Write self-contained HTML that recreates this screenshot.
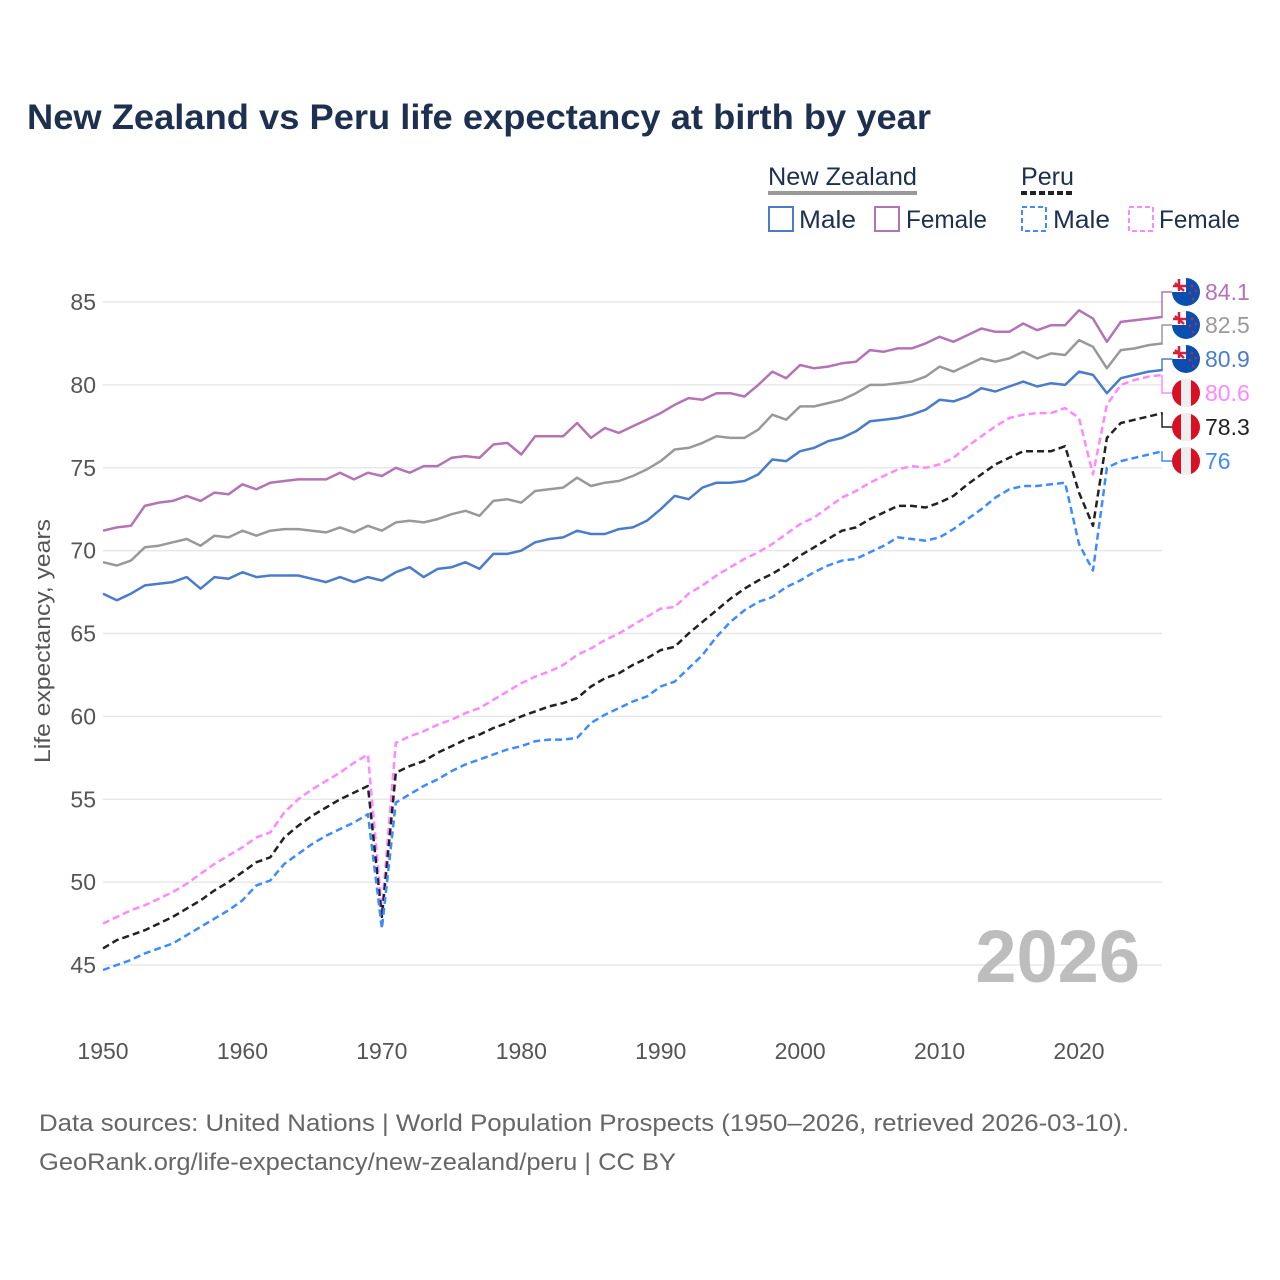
<!DOCTYPE html>
<html><head><meta charset="utf-8"><style>
html,body{margin:0;padding:0;background:#fff;}
svg{display:block;font-family:"Liberation Sans",sans-serif;}
</style></head><body>
<svg id="chart" width="1280" height="1280" viewBox="0 0 1280 1280" xmlns="http://www.w3.org/2000/svg">
<rect width="1280" height="1280" fill="#fff"/>
<text x="27" y="129" font-size="35" font-weight="bold" fill="#1d3050" textLength="904" lengthAdjust="spacingAndGlyphs">New Zealand vs Peru life expectancy at birth by year</text>
<g fill="#1d3050" font-size="25">
 <text x="768" y="185" textLength="149" lengthAdjust="spacingAndGlyphs">New Zealand</text>
 <line x1="768" y1="193" x2="917" y2="193" stroke="#999" stroke-width="4"/>
 <text x="1021" y="185" textLength="53" lengthAdjust="spacingAndGlyphs">Peru</text>
 <line x1="1021" y1="193" x2="1075" y2="193" stroke="#222" stroke-width="4" stroke-dasharray="6,3"/>
 <g><rect x="769" y="207" width="24" height="24" fill="none" stroke="#4a7cc9" stroke-width="2"/><text x="799" y="228" textLength="57" lengthAdjust="spacingAndGlyphs">Male</text></g>
 <g><rect x="875" y="207" width="24" height="24" fill="none" stroke="#b473b4" stroke-width="2"/><text x="906" y="228" textLength="81" lengthAdjust="spacingAndGlyphs">Female</text></g>
 <g><rect x="1022" y="207" width="24" height="24" fill="none" stroke="#3d8bff" stroke-width="2" stroke-dasharray="5,3"/><text x="1053" y="228" textLength="57" lengthAdjust="spacingAndGlyphs">Male</text></g>
 <g><rect x="1129" y="207" width="24" height="24" fill="none" stroke="#ff88ff" stroke-width="2" stroke-dasharray="5,3"/><text x="1159" y="228" textLength="81" lengthAdjust="spacingAndGlyphs">Female</text></g>
</g>
<text transform="translate(50,641) rotate(-90)" text-anchor="middle" font-size="22" fill="#555" textLength="244" lengthAdjust="spacingAndGlyphs">Life expectancy, years</text>
<g id="grid"></g><g id="yticks"></g><g id="xticks"></g>
<text x="1140" y="982" text-anchor="end" font-size="74" font-weight="bold" fill="#bdbdbd">2026</text>
<g id="lines"></g><g id="labels"></g>
<text x="39" y="1131" font-size="24" fill="#666" textLength="1090" lengthAdjust="spacingAndGlyphs">Data sources: United Nations | World Population Prospects (1950–2026, retrieved 2026-03-10).</text>
<text x="39" y="1170" font-size="24" fill="#666" textLength="637" lengthAdjust="spacingAndGlyphs">GeoRank.org/life-expectancy/new-zealand/peru | CC BY</text>
</svg>
<script>
const startYear = 1950;
const yTicks = [45,50,55,60,65,70,75,80,85];
const xTicks = [1950,1960,1970,1980,1990,2000,2010,2020];
const nzFemale = [71.2,71.4,71.5,72.7,72.9,73.0,73.3,73.0,73.5,73.4, 74.0,73.7,74.1,74.2,74.3,74.3,74.3,74.7,74.3,74.7, 74.5,75.0,74.7,75.1,75.1,75.6,75.7,75.6,76.4,76.5, 75.8,76.9,76.9,76.9,77.7,76.8,77.4,77.1,77.5,77.9, 78.3,78.8,79.2,79.1,79.5,79.5,79.3,80.0,80.8,80.4, 81.2,81.0,81.1,81.3,81.4,82.1,82.0,82.2,82.2,82.5, 82.9,82.6,83.0,83.4,83.2,83.2,83.7,83.3,83.6,83.6, 84.5,84.0,82.6,83.8,83.9,84.0,84.1];
const nzTotal = [69.3,69.1,69.4,70.2,70.3,70.5,70.7,70.3,70.9,70.8, 71.2,70.9,71.2,71.3,71.3,71.2,71.1,71.4,71.1,71.5, 71.2,71.7,71.8,71.7,71.9,72.2,72.4,72.1,73.0,73.1, 72.9,73.6,73.7,73.8,74.4,73.9,74.1,74.2,74.5,74.9, 75.4,76.1,76.2,76.5,76.9,76.8,76.8,77.3,78.2,77.9, 78.7,78.7,78.9,79.1,79.5,80.0,80.0,80.1,80.2,80.5, 81.1,80.8,81.2,81.6,81.4,81.6,82.0,81.6,81.9,81.8, 82.7,82.3,81.0,82.1,82.2,82.4,82.5];
const nzMale = [67.4,67.0,67.4,67.9,68.0,68.1,68.4,67.7,68.4,68.3, 68.7,68.4,68.5,68.5,68.5,68.3,68.1,68.4,68.1,68.4, 68.2,68.7,69.0,68.4,68.9,69.0,69.3,68.9,69.8,69.8, 70.0,70.5,70.7,70.8,71.2,71.0,71.0,71.3,71.4,71.8, 72.5,73.3,73.1,73.8,74.1,74.1,74.2,74.6,75.5,75.4, 76.0,76.2,76.6,76.8,77.2,77.8,77.9,78.0,78.2,78.5, 79.1,79.0,79.3,79.8,79.6,79.9,80.2,79.9,80.1,80.0, 80.8,80.6,79.5,80.4,80.6,80.8,80.9];
const peFemale = [47.5,47.9,48.3,48.6,49.0,49.4,49.9,50.5,51.1,51.6, 52.1,52.7,53.0,54.2,55.0,55.6,56.1,56.6,57.2,57.7, 48.3,58.4,58.8,59.1,59.5,59.8,60.2,60.5,61.0,61.5, 62.0,62.4,62.7,63.1,63.7,64.1,64.6,65.0,65.5,66.0, 66.5,66.6,67.4,67.9,68.5,69.0,69.5,69.9,70.4,71.0, 71.6,72.0,72.6,73.2,73.6,74.1,74.5,74.9,75.1,75.0, 75.2,75.6,76.3,76.9,77.5,78.0,78.2,78.3,78.3,78.6, 78.0,74.6,78.8,80.0,80.3,80.5,80.6];
const peTotal = [46.0,46.5,46.8,47.1,47.5,47.9,48.4,48.9,49.5,50.0, 50.6,51.2,51.5,52.7,53.4,54.0,54.5,55.0,55.4,55.8, 47.9,56.6,57.0,57.3,57.8,58.2,58.6,58.9,59.3,59.6, 60.0,60.3,60.6,60.8,61.1,61.8,62.3,62.6,63.1,63.5, 64.0,64.2,65.0,65.7,66.4,67.1,67.7,68.2,68.6,69.1, 69.7,70.2,70.7,71.2,71.4,71.9,72.3,72.7,72.7,72.6, 72.9,73.3,74.0,74.6,75.2,75.6,76.0,76.0,76.0,76.3, 73.5,71.5,76.8,77.7,77.9,78.1,78.3];
const peMale = [44.7,45.0,45.3,45.7,46.0,46.3,46.8,47.3,47.8,48.3, 48.9,49.8,50.1,51.1,51.7,52.3,52.8,53.2,53.6,54.1, 47.2,54.8,55.3,55.8,56.2,56.7,57.1,57.4,57.7,58.0, 58.2,58.5,58.6,58.6,58.7,59.6,60.1,60.5,60.9,61.2, 61.8,62.1,62.9,63.7,64.8,65.7,66.4,66.9,67.2,67.8, 68.2,68.7,69.1,69.4,69.5,69.9,70.3,70.8,70.7,70.6, 70.8,71.3,71.9,72.5,73.2,73.7,73.9,73.9,74.0,74.1, 70.4,68.8,75.0,75.4,75.6,75.8,76.0];

const NS = 'http://www.w3.org/2000/svg';
const X0 = 103, XPER = 13.943, Y85 = 302, YPER = 16.575;
function xs(year){ return X0 + (year - 1950) * XPER; }
function ys(v){ return Y85 + (85 - v) * YPER; }
function mk(tag, attrs, parent){ const e = document.createElementNS(NS, tag); for (const k in attrs) e.setAttribute(k, attrs[k]); parent.appendChild(e); return e; }

const grid = document.getElementById('grid'), yt = document.getElementById('yticks'), xt = document.getElementById('xticks');
yTicks.forEach(v => {
  const l = mk('line', {x1: 103, x2: 1162, y1: ys(v), y2: ys(v), stroke: '#e8e8e8', 'stroke-width': 1.5}, grid);
  
  
  const t = mk('text', {x: 96, y: ys(v) + 8, 'text-anchor': 'end', 'font-size': 23, fill: '#555'}, yt);
  
  
  t.textContent = v;
});
xTicks.forEach(yr => {
  const t = mk('text', {x: xs(yr), y: 1059, 'text-anchor': 'middle', 'font-size': 23, fill: '#555'}, xt);
  
  
  t.textContent = yr;
});

const series = [
  {name: 'nz-female', d: nzFemale, c: '#b473b4', dash: null, flag: 'nz', ly: 292, lc: '#b473b4'},
  {name: 'nz-total', d: nzTotal, c: '#999999', dash: null, flag: 'nz', ly: 325, lc: '#999999'},
  {name: 'nz-male', d: nzMale, c: '#4a7cc9', dash: null, flag: 'nz', ly: 359, lc: '#4a7cc9'},
  {name: 'peru-female', d: peFemale, c: '#ff88ff', dash: '7,4', flag: 'pe', ly: 393, lc: '#ff88ff'},
  {name: 'peru-total', d: peTotal, c: '#222222', dash: '7,4', flag: 'pe', ly: 427, lc: '#222222'},
  {name: 'peru-male', d: peMale, c: '#3d8bff', dash: '7,4', flag: 'pe', ly: 461, lc: '#3d8bff'}
];
const lines = document.getElementById('lines'), labels = document.getElementById('labels');
series.forEach(s => {
  const pts = s.d.map((v, i) => xs(startYear + i).toFixed(1) + ',' + ys(v).toFixed(1)).join(' ');
  const a = {points: pts, fill: 'none', stroke: s.c, 'stroke-width': 2.5, 'stroke-linejoin': 'round'};
  if (s.dash) a['stroke-dasharray'] = s.dash;
  const p = mk('polyline', a, lines);
  
  
  const last = s.d[s.d.length - 1];
  const ey = ys(last);
  const con = mk('polyline', {points: `1162,${ey} 1162,${s.ly} 1174,${s.ly}`, fill: 'none', stroke: s.c, 'stroke-width': 1.5}, labels);
  
  
  const g = mk('g', {}, labels);
  
  
  const cx = 1186, cy = s.ly;
  if (s.flag === 'nz') {
    mk('circle', {cx, cy, r: 14, fill: '#0a4fb0'}, g);
    mk('path', {d: `M${cx-14},${cy} A14,14 0 0 1 ${cx},${cy-14} L${cx},${cy} Z`, fill: '#ffffff'}, g);
    mk('path', {d: `M${cx-11},${cy-9} L${cx-2},${cy-1} M${cx-7},${cy-13} L${cx-7},${cy-1} M${cx-13},${cy-6} L${cx},${cy-6}`, stroke: '#d81f3a', 'stroke-width': 2.5}, g);
    [[6,-6],[10,-1],[4,1],[7,7]].forEach(o => mk('circle', {cx: cx + o[0], cy: cy + o[1], r: 1.3, fill: '#d81f3a'}, g));
  } else {
    mk('circle', {cx, cy, r: 14, fill: '#d91023'}, g);
    mk('rect', {x: cx - 5, y: cy - 14, width: 10, height: 28, fill: '#eeeeee'}, g);
  }
  const t = mk('text', {x: 1205, y: s.ly + 8, 'font-size': 23, fill: s.lc}, labels);
  
  
  t.textContent = last === Math.round(last) ? String(last) : last.toFixed(1);
});
</script>
</body></html>
